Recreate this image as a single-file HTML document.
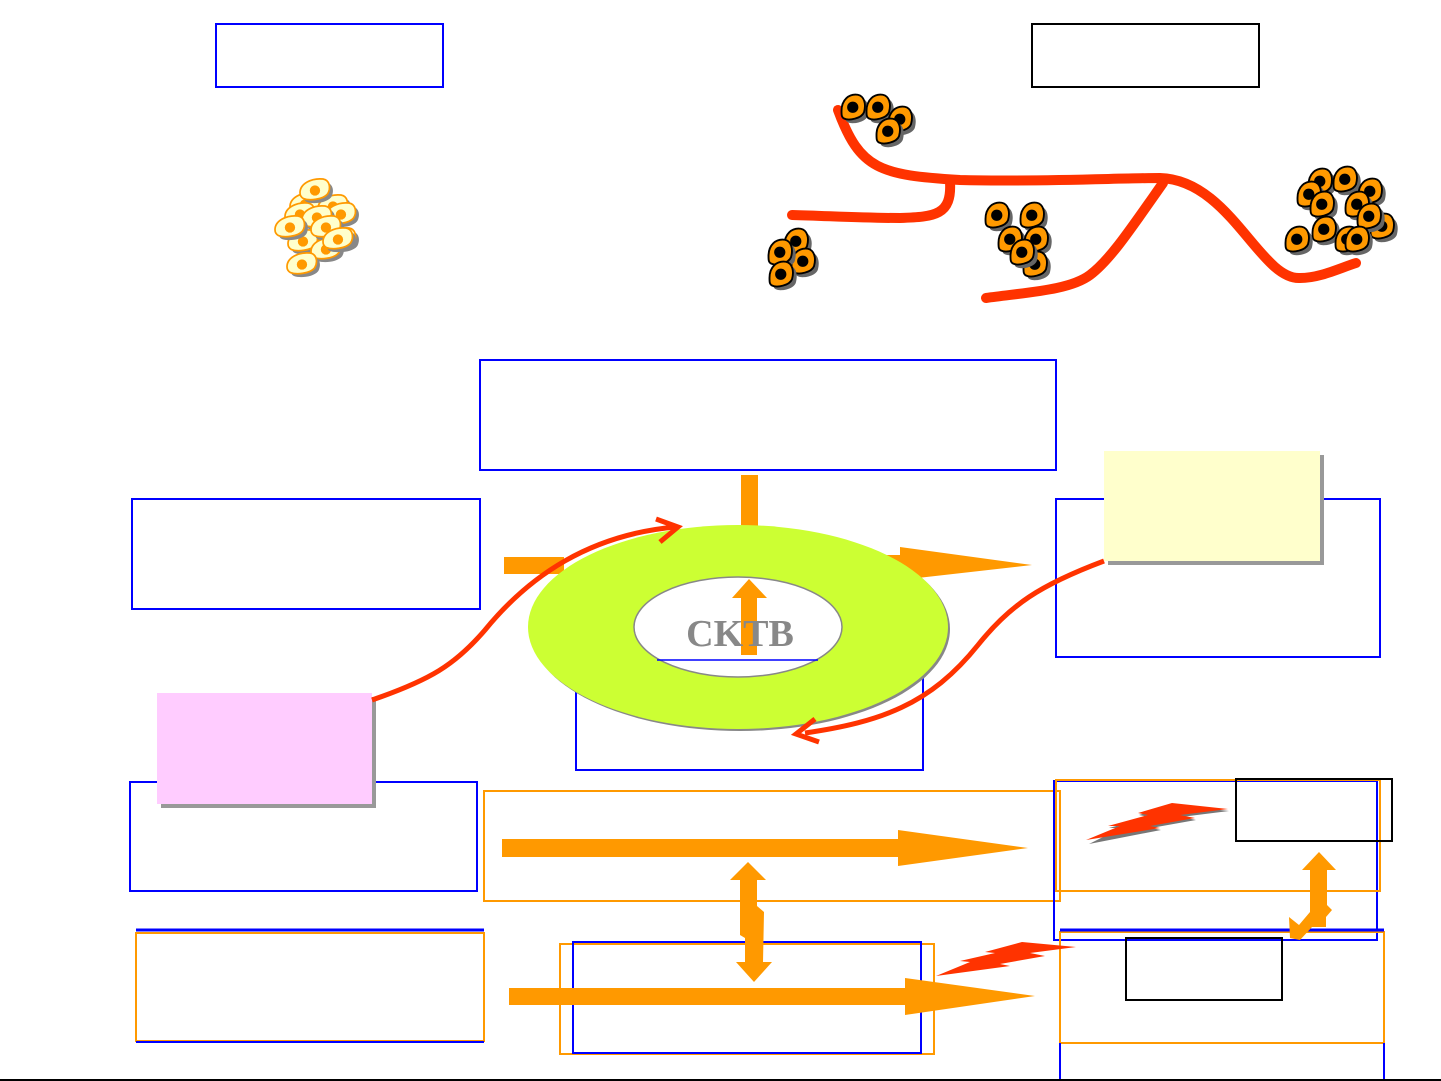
<!DOCTYPE html>
<html><head><meta charset="utf-8"><style>html,body{margin:0;padding:0;background:#fff}svg{display:block}</style></head>
<body>
<svg width="1441" height="1081" viewBox="0 0 1441 1081" xmlns="http://www.w3.org/2000/svg">
<defs>
<g id="oc"><g transform="scale(1.25)"><path d="M2,12 C2,3 8,-2 15,-1 C20,0 22,6 20,13 C18,18 8,20 4,18 C2,17 2,15 2,12Z" fill="#666" transform="translate(3,3)"/><path d="M2,12 C2,3 8,-2 15,-1 C20,0 22,6 20,13 C18,18 8,20 4,18 C2,17 2,15 2,12Z" fill="#ff9900" stroke="#000" stroke-width="1.5"/><circle cx="11" cy="9" r="4.5" fill="#000"/></g></g>
<g id="yc"><g transform="scale(1.15)"><path d="M0,12 C0,4 10,-1 20,0 C26,1 27,8 24,13 C20,18 8,19 3,17 C1,16 0,14 0,12Z" fill="#888" transform="translate(3,3)"/><path d="M0,12 C0,4 10,-1 20,0 C26,1 27,8 24,13 C20,18 8,19 3,17 C1,16 0,14 0,12Z" fill="#ffffcc" stroke="#ff9900" stroke-width="1.5"/><circle cx="13" cy="10" r="4.5" fill="#ff9900"/></g></g>
</defs>
<g fill="none" stroke-width="2">
<rect x="216" y="24" width="227" height="63" stroke="#00f"/>
<rect x="1032" y="24" width="227" height="63" stroke="#000"/>
<rect x="480" y="360" width="576" height="110" stroke="#00f"/>
<rect x="132" y="499" width="348" height="110" stroke="#00f"/>
<rect x="1056" y="499" width="324" height="158" stroke="#00f"/>
<rect x="576" y="660" width="347" height="110" stroke="#00f"/>
<rect x="130" y="782" width="347" height="109" stroke="#00f"/>
<rect x="484" y="791" width="576" height="110" stroke="#ff9900"/>
<rect x="1054" y="781" width="323" height="159" stroke="#00f"/>
<rect x="1056" y="780" width="324" height="111" stroke="#ff9900"/>
<rect x="1236" y="779" width="156" height="62" stroke="#000"/>
<rect x="136" y="933" width="348" height="108" stroke="#ff9900"/>
<rect x="560" y="944" width="374" height="110" stroke="#ff9900"/>
<rect x="573" y="942" width="348" height="111" stroke="#00f"/>
<rect x="1060" y="932" width="324" height="111" stroke="#ff9900"/>
<rect x="1126" y="938" width="156" height="62" stroke="#000"/>
</g>
<line x1="136" y1="930" x2="484" y2="930" stroke="#00f" stroke-width="3"/>
<line x1="136" y1="1042" x2="484" y2="1042" stroke="#00f" stroke-width="2"/>
<line x1="1060" y1="930" x2="1384" y2="930" stroke="#00f" stroke-width="3"/>
<line x1="1060" y1="1043" x2="1060" y2="1081" stroke="#00f" stroke-width="2"/>
<line x1="1384" y1="1043" x2="1384" y2="1081" stroke="#00f" stroke-width="2"/>
<line x1="0" y1="1080" x2="1441" y2="1080" stroke="#000" stroke-width="2"/>

<rect x="1108" y="455" width="216" height="110" fill="#999"/>
<rect x="1104" y="451" width="216" height="110" fill="#ffffcc"/>
<rect x="161" y="697" width="215" height="111" fill="#999"/>
<rect x="157" y="693" width="215" height="111" fill="#ffccff"/>

<rect x="741" y="475" width="17" height="60" fill="#ff9900"/>
<rect x="504" y="557" width="60" height="17" fill="#ff9900"/>
<rect x="880" y="555" width="30" height="17" fill="#ff9900"/>
<polygon points="900,547 1032,565 900,580" fill="#ff9900"/>

<ellipse cx="740" cy="629" rx="210" ry="102" fill="#888"/>
<ellipse cx="738" cy="627" rx="210" ry="102" fill="#ccff33"/>
<ellipse cx="738" cy="627" rx="104" ry="50" fill="#fff" stroke="#888" stroke-width="1.5"/>
<line x1="657" y1="660" x2="818" y2="660" stroke="#00f" stroke-width="1.5"/>
<polygon points="741,655 757,655 757,598 767,598 749,579 732,598 741,598" fill="#ff9900"/>
<text x="740" y="646" font-family="Liberation Serif, serif" font-weight="bold" font-size="38" fill="#888" text-anchor="middle">CKTB</text>

<rect x="502" y="839" width="400" height="18" fill="#ff9900"/>
<polygon points="898,830 1028,848 898,866" fill="#ff9900"/>
<rect x="509" y="988" width="400" height="17" fill="#ff9900"/>
<polygon points="905,978 1035,996 905,1015" fill="#ff9900"/>
<polygon points="748,862 766,880 757,880 757,906 764,912 763,962 772,962 754,982 736,962 745,962 745,938 740,935 740,880 730,880" fill="#ff9900"/>
<polygon points="1319,852 1336,870 1327,870 1327,905 1332,910 1326,917 1326,927 1312,927 1300,940 1290,938 1289,917 1299,925 1310,912 1310,870 1302,870" fill="#ff9900"/>

<polygon points="1088,842 1120,826 1108,826 1148,815 1138,813 1172,803 1228,809 1180,815 1195,818 1150,826 1160,828" fill="#777" transform="translate(1,2)"/>
<polygon points="1086,840 1120,826 1108,826 1148,815 1138,813 1172,803 1228,809 1180,815 1195,818 1150,826 1160,828" fill="#ff3300"/>
<polygon points="936,976 970,962 960,961 995,953 985,952 1022,942 1076,947 1030,953 1045,956 1000,964 1010,966" fill="#ff3300"/>

<g fill="none" stroke="#ff3300" stroke-width="5">
<path d="M372,700 C430,680 455,665 485,630 C530,575 590,535 675,527"/>
<path d="M656,519 L678,527 L660,542"/>
<path d="M1104,561 C1040,585 1010,605 978,645 C930,705 880,722 805,733"/>
<path d="M815,719 L796,734 L819,742"/>
<path d="M838,110 C860,170 880,175 960,180 C1040,182 1120,178 1160,178 C1230,180 1260,280 1300,278 C1320,278 1340,268 1356,263" stroke-width="10" stroke-linecap="round"/>
<path d="M950,182 C952,215 935,217 900,218 C860,218 830,216 792,215" stroke-width="10" stroke-linecap="round"/>
<path d="M1163,183 C1130,230 1110,260 1090,275 C1070,290 1030,292 986,298" stroke-width="10" stroke-linecap="round"/>
</g>

<use href="#yc" x="290" y="193"/>
<use href="#yc" x="318" y="195"/>
<use href="#yc" x="285" y="203"/>
<use href="#yc" x="326" y="203"/>
<use href="#yc" x="302" y="206"/>
<use href="#yc" x="326" y="228"/>
<use href="#yc" x="288" y="230"/>
<use href="#yc" x="311" y="238"/>
<use href="#yc" x="275" y="216"/>
<use href="#yc" x="311" y="216"/>
<use href="#yc" x="323" y="228"/>
<use href="#yc" x="287" y="253"/>
<use href="#yc" x="300" y="179"/>

<use href="#oc" x="839" y="96"/>
<use href="#oc" x="864" y="96"/>
<use href="#oc" x="886" y="108"/>
<use href="#oc" x="874" y="120"/>
<use href="#oc" x="782" y="230"/>
<use href="#oc" x="789" y="250"/>
<use href="#oc" x="766" y="241"/>
<use href="#oc" x="767" y="263"/>
<use href="#oc" x="983" y="204"/>
<use href="#oc" x="1018" y="204"/>
<use href="#oc" x="996" y="228"/>
<use href="#oc" x="1022" y="228"/>
<use href="#oc" x="1021" y="253"/>
<use href="#oc" x="1008" y="241"/>
<use href="#oc" x="1306" y="170"/>
<use href="#oc" x="1331" y="168"/>
<use href="#oc" x="1356" y="180"/>
<use href="#oc" x="1295" y="183"/>
<use href="#oc" x="1308" y="193"/>
<use href="#oc" x="1343" y="193"/>
<use href="#oc" x="1368" y="215"/>
<use href="#oc" x="1355" y="205"/>
<use href="#oc" x="1310" y="218"/>
<use href="#oc" x="1283" y="228"/>
<use href="#oc" x="1333" y="228"/>
<use href="#oc" x="1343" y="228"/>
</svg>
</body></html>
